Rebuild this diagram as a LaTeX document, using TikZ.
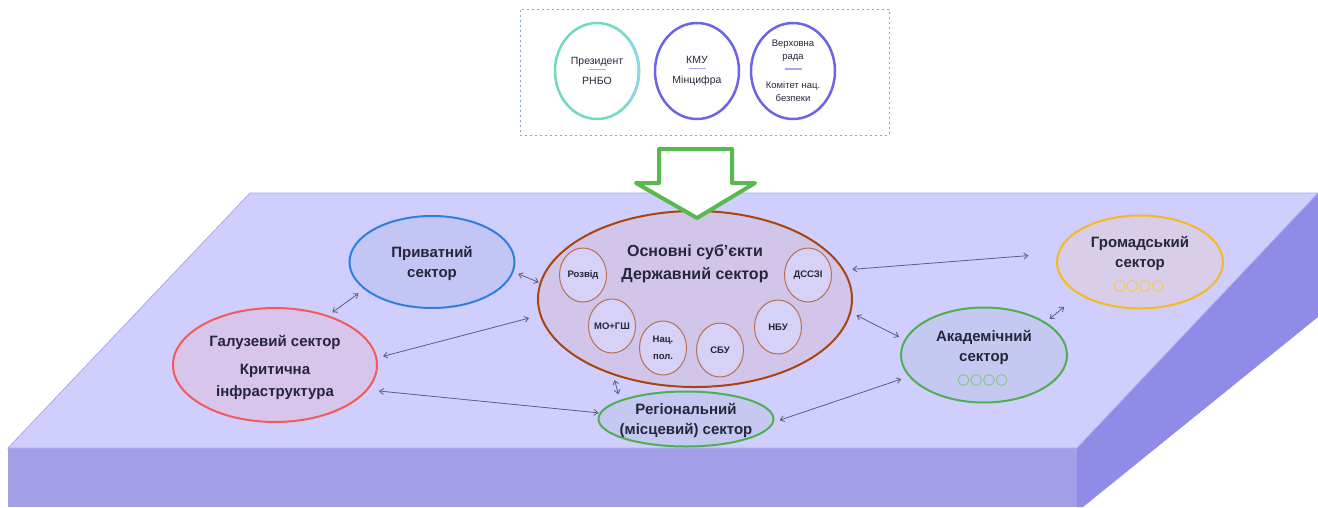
\documentclass[tikz,border=0pt]{standalone}
\usepackage{fontspec}
\setmainfont{Liberation Sans}
\usetikzlibrary{arrows.meta,shapes.geometric}
\definecolor{slabtop}{HTML}{D0CEFC}
\definecolor{slabedge}{HTML}{A9A7F2}
\definecolor{slabfront}{HTML}{A29FE6}
\definecolor{slabside}{HTML}{8F8BE6}
\definecolor{ink}{HTML}{26253A}
\definecolor{linkc}{HTML}{5D5C80}
\definecolor{govblue}{HTML}{6C63E9}
\definecolor{govgreen}{HTML}{72DBB0}
\definecolor{govmid}{HTML}{80D8CF}
\definecolor{govcyan}{HTML}{8ED6EC}
\definecolor{seplc}{HTML}{ABA3F3}
\definecolor{framec}{HTML}{86A6D8}
\definecolor{mainfill}{HTML}{D2C5EA}
\definecolor{mainline}{HTML}{A8450F}
\definecolor{unitline}{HTML}{B8704F}
\definecolor{unitfill}{HTML}{D6D1F7}
\definecolor{privline}{HTML}{2E80E0}
\definecolor{privfill}{HTML}{C3C5F5}
\definecolor{galline}{HTML}{F25B5B}
\definecolor{galfill}{HTML}{D7C5EC}
\definecolor{gromline}{HTML}{F6B821}
\definecolor{gromfill}{HTML}{D8CEEA}
\definecolor{acadline}{HTML}{4DAF52}
\definecolor{acadfill}{HTML}{C5C9F1}
\definecolor{bigarrowc}{HTML}{58B94F}
\newcommand{\sepline}{{\color{seplc}\rule[2.5pt]{17pt}{1.5pt}}}
\tikzset{
  govcirc/.style={ellipse, draw, line width=2.5pt, minimum width=84pt, minimum height=96pt, inner sep=0pt},
  govtext/.style={align=center, font=\fontsize{10.5}{10}\selectfont, text=ink},
  sector/.style={ellipse, line width=2pt, minimum width=166pt, minimum height=93pt, inner sep=0pt},
  title/.style={align=center, font=\bfseries\fontsize{15}{20}\selectfont, text=ink},
  unit/.style={ellipse, draw=unitline, fill=unitfill, line width=1pt, minimum width=47pt, minimum height=54pt, inner sep=0pt},
  unittext/.style={align=center, font=\bfseries\fontsize{9.5}{17}\selectfont, text=ink},
  link/.style={{Straight Barb[length=4pt,width=6pt]}-{Straight Barb[length=4pt,width=6pt]}, draw=linkc, line width=0.8pt},
  dots/.style={line width=0.9pt}
}
\begin{document}
\begin{tikzpicture}[x=1pt,y=-1pt]
\useasboundingbox (0,0) rectangle (1318,507);
\fill[slabfront] (8,448) rectangle (1077,507);
\fill[slabside] (1318,193) -- (1318,317) -- (1083,507) -- (1077,507) -- (1077,448) -- cycle;
\filldraw[fill=slabtop, draw=slabedge, line width=0.8pt] (250,193) -- (1318,193) -- (1077,448) -- (8,448) -- cycle;

\node[draw=framec, line width=1pt, dash pattern=on 2pt off 3pt, minimum width=369pt, minimum height=126pt] (frame) at (704.5,72) {};
\node[govcirc, draw=govgreen] (pres) at (597,71) {};
\draw[govmid, line width=2.5pt] ([shift={(70:42pt and 48pt)}]pres.center) arc[start angle=70, end angle=-70, x radius=42pt, y radius=48pt];
\draw[govcyan, line width=2.5pt] ([shift={(40:42pt and 48pt)}]pres.center) arc[start angle=40, end angle=-40, x radius=42pt, y radius=48pt];
\node[govcirc, draw=govblue] (kmu) at (697,71) {};
\node[govcirc, draw=govblue] (rada) at (793,71) {};
\node[govtext] (prestxt) at (pres) {Президент\\[-2pt]\sepline\\[2pt]РНБО};
\node[govtext] (kmutxt) at (kmu) {КМУ\\[-2pt]\sepline\\[2pt]Мінцифра};
\node[govtext, font=\fontsize{9.5}{13}\selectfont] (radatxt) at (rada) {Верховна\\рада\\\sepline\\[3.5pt]Комітет нац.\\безпеки};

\node[sector, draw=mainline, fill=mainfill, minimum width=314pt, minimum height=176pt] (main) at (695,299) {};
\node[title, font=\bfseries\fontsize{16}{23}\selectfont] (maintxt) at (695,264) {Основні суб’єкти\\Державний сектор};
\foreach \nm/\px/\py/\txt in {razv/583/275/Розвід, dsszi/808/275/ДССЗІ, mogsh/612/326/МО+ГШ, natpol/663/348/{Нац.\\пол.}, sbu/720/350/СБУ, nbu/778/327/НБУ} {
  \node[unit] (\nm) at (\px,\py) {};
  \node[unittext] (\nm-txt) at (\nm) {\txt};
}

\node[sector, draw=privline, fill=privfill, minimum width=165pt, minimum height=92pt] (priv) at (432,262) {};
\node[title] (privtxt) at (432,263) {Приватний\\сектор};
\node[sector, draw=galline, fill=galfill, minimum width=204pt, minimum height=114pt] (gal) at (275,365) {};
\node[title, font=\bfseries\fontsize{15}{22}\selectfont] (galtxt) at (275,367) {Галузевий сектор\\[6pt]Критична\\інфраструктура};
\node[sector, draw=gromline, fill=gromfill] (grom) at (1140,262) {};
\node[title] (gromtxt) at (1140,253) {Громадський\\сектор};
\node[sector, draw=acadline, fill=acadfill, minimum height=95pt] (acad) at (984,355) {};
\node[title] (acadtxt) at (984,347) {Академічний\\сектор};
\node[sector, draw=acadline, fill=acadfill, minimum width=175pt, minimum height=55pt] (reg) at (686,419) {};
\node[title] (regtxt) at (686,420) {Регіональний\\(місцевий) сектор};
\foreach \i in {0,...,3} {
  \draw[gromline!80, dots] ([xshift={(12.7*\i-20.5)*1pt}, yshift=-24pt]grom.center) circle[radius=5.4pt];
  \draw[acadline!70, dots] ([xshift={(12.7*\i-20.5)*1pt}, yshift=-25pt]acad.center) circle[radius=5.4pt];
}

\draw[link, shorten <=5pt, shorten >=1pt] (priv.-7) -- (main.174);
\draw[link, shorten <=7pt, shorten >=5pt] (priv.202) -- (gal.43);
\draw[link, shorten <=11pt, shorten >=6pt] (main.186) -- (gal.4);
\draw[link, shorten <=11pt, shorten >=1pt] (gal.-15) -- (reg.176);
\draw[link, shorten <=5pt, shorten >=6pt] (main.223) -- (reg.164);
\draw[link, shorten <=6pt, shorten >=8pt] (reg.-2) -- (acad.196);
\draw[link, shorten <=6pt, shorten >=6pt] (main.-5) -- (acad.169);
\draw[link, shorten <=8pt, shorten >=29pt] (main.11) -- (grom.174);
\draw[link, shorten <=5pt, shorten >=19pt] (acad.28) -- (grom.208);

\draw[bigarrowc, line width=4pt, fill=white, line join=round] (659,149) -- (732,149) -- (732,183) -- (755,183) -- (697,218) -- (636,183) -- (659,183) -- cycle;
\end{tikzpicture}
\end{document}
